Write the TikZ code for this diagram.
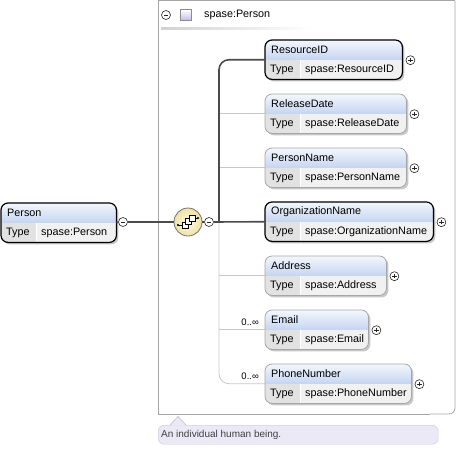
\documentclass[tikz,border=0pt]{standalone}
\usepackage{fontspec}
\setmainfont{Liberation Sans}
\usetikzlibrary{positioning, calc}

\definecolor{hdtop}{HTML}{F4F7FD}
\definecolor{hdbot}{HTML}{C5D5F0}
\definecolor{keycell}{HTML}{E2E2E2}
\definecolor{valcell}{HTML}{F1F1F1}
\definecolor{seqin}{HTML}{FFFBE8}
\definecolor{seqout}{HTML}{EEE2A2}
\definecolor{ann}{HTML}{ECE9F6}
\definecolor{annline}{HTML}{C9C3DD}
\definecolor{sqbot}{HTML}{C4BAE6}

\begin{document}
\begin{tikzpicture}[x=1pt, y=-1pt,
    font=\fontsize{10.8}{13}\selectfont,
    mand/.style={draw=black, line width=1.2pt},
    opt/.style={draw=black!35, line width=0.8pt},
    txt/.style={anchor=west, inner sep=0pt},
    strongline/.style={draw=black!70, line width=1.6pt},
    weakline/.style={draw=black!22, line width=0.8pt},
    ctr/.style={draw=black!35, line width=0.8pt},
    pm/.style={circle, draw=black!85, fill=white, line width=0.6pt, minimum size=9pt, inner sep=0pt},
    minusc/.style={pm, path picture={\draw[line width=0.6pt]
        ([xshift=-2.2pt]path picture bounding box.center) -- ([xshift=2.2pt]path picture bounding box.center);}},
    plusc/.style={pm, path picture={\draw[line width=0.6pt]
        ([xshift=-2.2pt]path picture bounding box.center) -- ([xshift=2.2pt]path picture bounding box.center)
        ([yshift=-2.2pt]path picture bounding box.center) -- ([yshift=2.2pt]path picture bounding box.center);}}]
    \useasboundingbox (0,0) rectangle (457,448);

    % Group frame
    \draw[ctr] (158,414) -- (158,0.5) -- (455,0.5);
    \draw[ctr, rounded corners=6pt] (430,414) -- (455,414) -- (455,0.5);
    \draw[ctr] (158,414) -- (430,414);
    \shade[left color=black!18, right color=white] (161,27) rectangle (312,29);
    \node[minusc] (hmin) at (166,15) {};
    \node[draw=black!45, line width=0.6pt, top color=white, bottom color=sqbot,
        minimum size=11pt, inner sep=0pt] (hsq) at (186,15) {};
    \node[txt] (htitle) at (204,15) {spase:Person};

    % Annotation
    \node[draw=annline, fill=ann, rounded corners=6pt, minimum width=280pt, minimum height=19pt,
        anchor=north west] (desc) at (158,425) {};
    \fill[ann] (170,425.6) -- (178,416.5) -- (186,425.6) -- cycle;
    \draw[annline, line width=0.8pt] (170,425) -- (178,416.5) -- (186,425);
    \node[txt, text=black!75, font=\fontsize{10}{12}\selectfont] (desc-t) at (161,434.5) {An individual human being.};

    % Element boxes
    \foreach \n/\x/\t/\w/\lbl/\typ/\st in {
        person/1/203/115/Person/spase:Person/mand,
        rid/265/40/137/ResourceID/spase:ResourceID/mand,
        rel/265/94/141/ReleaseDate/spase:ReleaseDate/opt,
        pname/265/148/141/PersonName/spase:PersonName/opt,
        org/265/202/168/OrganizationName/spase:OrganizationName/mand,
        addr/265/256/121/Address/spase:Address/opt,
        email/265/310/103/Email/spase:Email/opt,
        phone/265/364/146/PhoneNumber/spase:PhoneNumber/opt} {
        \node[anchor=north west, minimum width=\w pt, minimum height=39pt, inner sep=0pt] (\n) at (\x,\t) {};
        \fill[black!22, rounded corners=7pt] ($(\n.north west)+(2,2)$) rectangle ($(\n.south east)+(2,2)$);
        \begin{scope}
            \clip[rounded corners=7pt] (\n.north west) rectangle (\n.south east);
            \shade[top color=hdtop, bottom color=hdbot] (\n.north west) rectangle (\n.east);
            \fill[keycell] (\n.west) rectangle ($(\n.south west)+(35,0)$);
            \fill[valcell] ($(\n.west)+(35,0)$) rectangle (\n.south east);
            \draw[white, line width=0.8pt] ($(\n.west)+(35,0)$) -- ($(\n.south west)+(35,0)$);
        \end{scope}
        \draw[\st, rounded corners=7pt] (\n.north west) rectangle (\n.south east);
        \node[txt] (\n-t) at ($(\n.north west)+(6,10)$) {\lbl};
        \node[txt] (\n-k) at ($(\n.south west)+(5,-9.5)$) {Type};
        \node[txt] (\n-v) at ($(\n.south west)+(40,-9.5)$) {\typ};
    }

    % Expand buttons
    \foreach \n in {rid, rel, pname, org, addr, email, phone}
        \node[plusc] (\n-p) at ($(\n.east)+(8,0.5)$) {};

    % Sequence compositor
    \node[minusc] (pmin) at (123,222) {};
    \node[circle, draw=black!55, line width=0.8pt, inner color=seqin, outer color=seqout,
        minimum size=28pt, inner sep=0pt] (seq) at (188,222) {};
    \node[minusc] (smin) at (209,222) {};
    \coordinate (trunk) at (219,222);
    \draw[line width=0.9pt] ($(seq)+(-10,3)$) -- ($(seq)+(-6,3)$);
    \draw[line width=0.9pt] ($(seq)+(6,-4)$) -- ($(seq)+(10,-4)$);
    \fill ($(seq)+(-10,3)$) circle (1.1);
    \fill ($(seq)+(10,-4)$) circle (1.1);
    \foreach \d in {0,1,2}
        \draw[fill=white, line width=0.7pt] ($(seq)+(-6+3.5*\d,0-3.5*\d)$) rectangle ++(6,6);

    % Connectors
    \draw[strongline] (person.east) -- (pmin.west);
    \draw[strongline] (pmin.east) -- (seq.west);
    \draw[strongline] (seq.east) -- (smin.west);
    \draw[weakline, rounded corners=10pt] (trunk) |- (phone.west);
    \foreach \n in {rel, pname, addr, email}
        \draw[weakline] (trunk |- \n.west) -- (\n.west);
    \draw[strongline, rounded corners=10pt] (trunk) |- (rid.west);
    \draw[strongline] (smin.east) -- (org.west);

    % Occurrence labels
    \foreach \n in {email, phone}
        \node[anchor=east, inner sep=0pt, font=\fontsize{9.5}{11}\selectfont] (\n-c) at ($(\n.west)+(-6,-7)$) {0..∞};
\end{tikzpicture}
\end{document}
